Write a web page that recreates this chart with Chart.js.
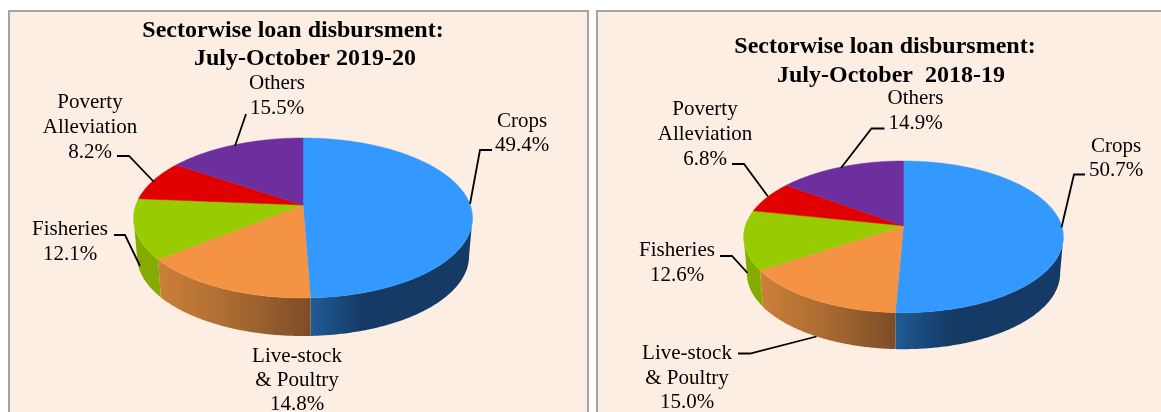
<!DOCTYPE html>
<html>
<head>
<meta charset="utf-8">
<title>Sectorwise loan disbursment</title>
<script src="https://cdn.jsdelivr.net/npm/chart.js@4/dist/chart.umd.min.js"></script>
<style>
  html, body { margin: 0; padding: 0; background: #fff; overflow: hidden; }
  #page { position: relative; width: 1161px; height: 412px; overflow: hidden; }
  .panel { position: absolute; top: 10px; height: 420px; box-sizing: border-box; background: #fdeee4; border: 2px solid #a3a3a3; }
  #panelA { left: 8px; width: 581px; }
  #panelB { left: 596px; width: 580px; }
  canvas { position: absolute; top: 0; }
  #chartA { left: 0; }
  #chartB { left: 590px; }
</style>
</head>
<body>
<div id="page">
  <div class="panel" id="panelA"></div>
  <div class="panel" id="panelB"></div>
  <canvas id="chartA" width="590" height="412"></canvas>
  <canvas id="chartB" width="571" height="412"></canvas>
</div>
<script>
// data
const categories = ["Crops", "Live-stock\n& Poultry", "Fisheries", "Poverty\nAlleviation", "Others"];
const values2019 = [49.4, 14.8, 12.1, 8.2, 15.5];
const values2018 = [50.7, 15.0, 12.6, 6.8, 14.9];
const titleLines2019 = ["Sectorwise loan disbursment:", "July-October 2019-20"];
const titleLines2018 = ["Sectorwise loan disbursment:", "July-October  2018-19"];

const topColors = ["#3399ff", "#f49343", "#99cc00", "#e00000", "#6e2f9e"];
const wallStops = [
    [[0, "#1f5c94"], [0.32, "#153a66"], [1, "#153a66"]],
    [[0, "#cc8039"], [0.5, "#a96a31"], [1, "#7c4c28"]],
    [[0, "#85ab00"], [1, "#85ab00"]],
    [[0, "#8f0000"], [1, "#8f0000"]],
    [[0, "#46206a"], [1, "#46206a"]]
];

const serif = '"Liberation Serif", "Times New Roman", serif';

// projected circle: apex sits above the ellipse centre, same as the tilted original
function project(g, angle, wall) {
    const u = Math.cos(angle), v = Math.sin(angle);
    const den = 1 + g.p * v;
    if (wall) {
        return { x: g.cx + g.a * 0.98 * u / den, y: g.cy + g.depth + g.b * v / den };
    }
    return { x: g.cx + g.a * u / den, y: g.cy + g.b * v / den };
}

function sampleAngles(start, end) {
    const n = Math.max(2, Math.ceil((end - start) / 0.01));
    const out = [];
    for (let i = 0; i <= n; i++) out.push(start + (end - start) * i / n);
    return out;
}

const pie3d = {
    id: "pie3d",
    beforeDatasetsDraw(chart, args, opts) {
        const ctx = chart.ctx;
        const g = opts.geom;
        const arcs = chart.getDatasetMeta(0).data;

        // wall only runs between the two widest points of the ellipse
        const frontStart = Math.asin(-g.p);
        const frontEnd = Math.PI - frontStart;
        arcs.forEach((arc, i) => {
            const start = Math.max(arc.startAngle, frontStart);
            const end = Math.min(arc.endAngle, frontEnd);
            if (end <= start) return;
            const angles = sampleAngles(start, end);
            const top = angles.map(a => project(g, a, false));
            const low = angles.map(a => project(g, a, true));
            const xs = top.map(p => p.x);
            const grad = ctx.createLinearGradient(Math.min(...xs), 0, Math.max(...xs), 0);
            wallStops[i].forEach(s => grad.addColorStop(s[0], s[1]));
            ctx.beginPath();
            top.forEach((p, k) => k ? ctx.lineTo(p.x, p.y) : ctx.moveTo(p.x, p.y));
            low.reverse().forEach(p => ctx.lineTo(p.x, p.y));
            ctx.closePath();
            ctx.fillStyle = grad;
            ctx.fill();
        });

        arcs.forEach((arc, i) => {
            const angles = sampleAngles(arc.startAngle, arc.endAngle);
            ctx.beginPath();
            ctx.moveTo(g.cx, g.cy);
            angles.forEach(a => {
                const p = project(g, a, false);
                ctx.lineTo(p.x, p.y);
            });
            ctx.closePath();
            ctx.fillStyle = topColors[i];
            ctx.strokeStyle = topColors[i];
            ctx.lineWidth = 0.5;
            ctx.fill();
            ctx.stroke();
        });
        return false; // default circular arcs are not wanted
    },
    afterDraw(chart, args, opts) {
        const ctx = chart.ctx;
        const values = chart.data.datasets[0].data;
        ctx.save();
        ctx.fillStyle = "#000";
        ctx.textAlign = "center";
        ctx.textBaseline = "alphabetic";

        ctx.font = "bold 24px " + serif;
        opts.titleLines.forEach((line, i) => {
            ctx.fillText(line, opts.titlePos[i][0], opts.titlePos[i][1]);
        });

        ctx.font = "21px " + serif;
        chart.data.labels.forEach((name, i) => {
            const pos = opts.labelPos[i];
            const lines = name.split("\n").concat([values[i].toFixed(1) + "%"]);
            lines.forEach((line, k) => ctx.fillText(line, pos.x, pos.y + k * pos.gap));
        });

        ctx.strokeStyle = "#000";
        ctx.lineWidth = 1.8;
        opts.leaders.forEach(pts => {
            ctx.beginPath();
            pts.forEach((p, k) => k ? ctx.lineTo(p[0], p[1]) : ctx.moveTo(p[0], p[1]));
            ctx.stroke();
        });
        ctx.restore();
    }
};

function makePie(id, values, settings) {
    return new Chart(document.getElementById(id), {
        type: "pie",
        data: {
            labels: categories,
            datasets: [{ data: values, backgroundColor: topColors, borderWidth: 0 }]
        },
        options: {
            responsive: false,
            animation: false,
            plugins: {
                legend: { display: false },
                tooltip: { enabled: false },
                pie3d: settings
            }
        },
        plugins: [pie3d]
    });
}

makePie("chartA", values2019, {
    geom: { cx: 303, cy: 205, a: 167.2, b: 77.9, p: -0.1625, depth: 38 },
    titleLines: titleLines2019,
    titlePos: [[293, 37], [305, 65]],
    labelPos: [
        { x: 522, y: 127, gap: 24 },
        { x: 297, y: 362, gap: 24 },
        { x: 70, y: 235, gap: 25 },
        { x: 90, y: 108, gap: 25 },
        { x: 277, y: 89, gap: 25 }
    ],
    leaders: [
        [[492, 150], [480, 150], [470, 204]],
        [[246, 114], [235, 146]],
        [[117, 156], [129, 156], [154, 182]],
        [[114, 235], [125, 235], [140, 266]]
    ]
});

// chartB sits 590px to the right, coordinates below are local to it
makePie("chartB", values2018, {
    geom: { cx: 313.5, cy: 225.7, a: 158.1, b: 74.2, p: -0.147, depth: 36.5 },
    titleLines: titleLines2018,
    titlePos: [[295, 53], [301, 82]],
    labelPos: [
        { x: 526, y: 152, gap: 24 },
        { x: 97, y: 359, gap: 24.5 },
        { x: 87, y: 256, gap: 25 },
        { x: 115, y: 115, gap: 25 },
        { x: 325.5, y: 104, gap: 25 }
    ],
    leaders: [
        [[495, 174.5], [484, 174.5], [471.5, 227.5]],
        [[148, 353.5], [160, 353.5], [226.5, 336.5]],
        [[130, 256], [142, 256], [157.5, 273]],
        [[142, 164], [154, 164], [178, 196.5]],
        [[294.5, 128.5], [281.5, 128.5], [251, 168]]
    ]
});
</script>
</body>
</html>
